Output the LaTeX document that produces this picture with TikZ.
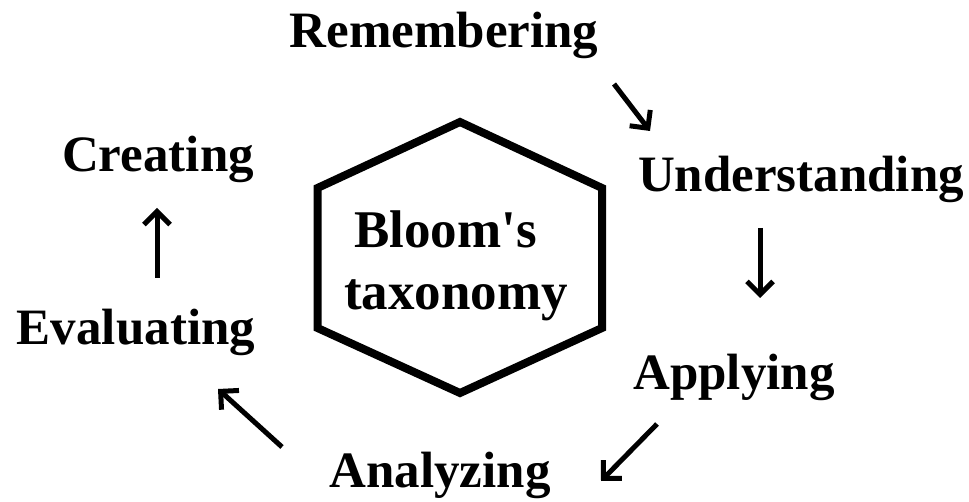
\documentclass[tikz,border=0pt]{standalone}
\usepackage{fontspec}
\setmainfont{Liberation Serif}
\usetikzlibrary{arrows.meta}

\tikzset{
  stage/.style={anchor=base, inner sep=0pt, font=\fontsize{51}{60}\selectfont\bfseries},
  centre/.style={anchor=base, inner sep=0pt, font=\fontsize{53}{62}\selectfont\bfseries},
  hexline/.style={line width=8pt, line join=miter},
  cycle/.style={line width=5pt, -{Straight Barb[length=13pt,width=26pt]}},
}

\begin{document}
\begin{tikzpicture}[x=1pt, y=-1pt]
  \useasboundingbox (0,0) rectangle (969,502);

  % central hexagon
  \coordinate (h1) at (460,122);
  \coordinate (h2) at (602,188);
  \coordinate (h3) at (602,328);
  \coordinate (h4) at (460,393);
  \coordinate (h5) at (317.5,328);
  \coordinate (h6) at (317.5,188);
  \draw[hexline] (h1) -- (h2) -- (h3) -- (h4) -- (h5) -- (h6) -- cycle;

  \node[centre] (bloom) at (445.5,248) {Bloom\textquotesingle s};
  \node[centre] (taxo)  at (456,310)   {taxonomy};

  % the six stages
  \node[stage] (rem) at (444,48)  {Remembering};
  \node[stage] (und) at (801,192) {Understanding};
  \node[stage] (app) at (734,390) {Applying};
  \node[stage] (ana) at (440,487) {Analyzing};
  \node[stage] (eva) at (136,345) {Evaluating};
  \node[stage] (cre) at (158,172) {Creating};

  % arrow end points between the stages
  \coordinate (a1s) at (614,84);   \coordinate (a1e) at (650,131);
  \coordinate (a2s) at (760,228);  \coordinate (a2e) at (760,298);
  \coordinate (a3s) at (657,424);  \coordinate (a3e) at (601,481);
  \coordinate (a4s) at (282,447);  \coordinate (a4e) at (218,389);
  \coordinate (a5s) at (157,278);  \coordinate (a5e) at (157,208);

  \draw[cycle] (a1s) -- (a1e);
  \draw[cycle] (a2s) -- (a2e);
  \draw[cycle] (a3s) -- (a3e);
  \draw[cycle] (a4s) -- (a4e);
  \draw[cycle] (a5s) -- (a5e);
\end{tikzpicture}
\end{document}
